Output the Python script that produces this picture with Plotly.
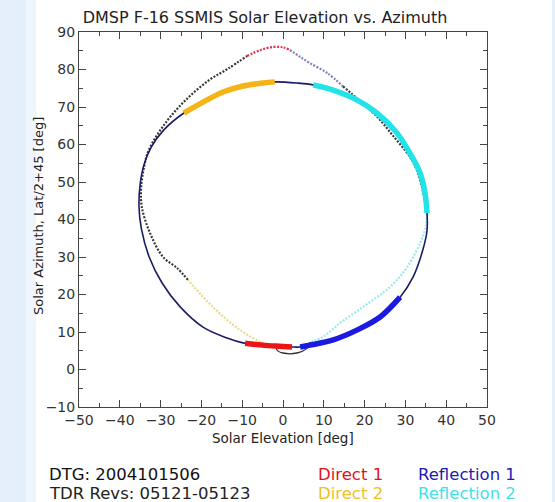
import plotly.graph_objects as go

# ---------------- data ----------------
# Orbit 1: solid navy closed loop (Solar Elevation, Solar Azimuth)
navy_x = [-2.0, 3.4, 7.4, 12.3, 18.1, 23.0, 27.9, 31.1, 33.6, 34.8, 35.3, 35.3, 34.3, 31.9, 28.7,
          23.8, 18.1, 12.3, 6.6, 4.2, 2.2, -1.0, -5.0, -9.8, -13.7, -19.6, -25.2, -29.6, -32.8,
          -34.7, -35.3, -35.0, -34.1, -32.3, -29.2, -24.3, -19.6, -14.7, -9.8, -4.9, -2.0]
navy_y = [76.7, 76.4, 75.9, 74.5, 71.9, 68.4, 63.1, 57.7, 52.4, 47.1, 41.7, 37.0, 32.0, 24.7, 19.3,
          14.0, 10.5, 7.9, 6.5, 6.0, 6.0, 6.2, 6.5, 7.1, 8.4, 11.3, 16.7, 23.0, 30.0,
          37.5, 43.5, 49.5, 54.5, 59.3, 63.9, 68.4, 71.3, 74.0, 75.6, 76.4, 76.7]

# Thick highlighted segments on orbit 1
direct1_x = [-9.3, -5.0, -1.0, 2.2]
direct1_y = [7.0, 6.5, 6.2, 6.0]
direct2_x = [-24.3, -19.6, -14.7, -9.8, -4.9, -2.0]
direct2_y = [68.4, 71.3, 74.0, 75.6, 76.4, 76.7]
refl1_x = [4.2, 6.6, 12.3, 18.1, 23.8, 28.7]
refl1_y = [6.0, 6.5, 7.9, 10.5, 14.0, 19.3]
refl2_x = [7.4, 12.3, 18.1, 23.0, 27.9, 31.1, 33.6, 34.8, 35.3]
refl2_y = [75.9, 74.5, 71.9, 68.4, 63.1, 57.7, 52.4, 47.1, 41.7]

# Orbit 2: dotted loop, split in segments by colour
o2_red_x = [-8.8, -5.5, -2.5, 0.0, 1.7]
o2_red_y = [83.6, 85.2, 86.0, 85.9, 85.2]
o2_blue_x = [1.7, 4.0, 6.6, 10.8, 14.7]
o2_blue_y = [85.2, 83.5, 81.7, 79.1, 75.5]
o2_black_r_x = [14.7, 18.9, 23.0, 27.0, 31.1, 32.8, 34.3, 35.3]
o2_black_r_y = [75.5, 71.6, 67.5, 62.3, 56.7, 53.2, 47.5, 41.5]
o2_cyan_x = [35.3, 35.0, 33.6, 30.4, 26.2, 19.6, 14.0, 9.8, 6.6]
o2_cyan_y = [41.5, 38.0, 33.7, 27.3, 22.0, 16.7, 12.4, 8.7, 7.3]
o2_loop_x = [6.6, 5.9, 3.4, 0.0, -1.5, -1.5]
o2_loop_y = [7.3, 5.7, 4.4, 4.4, 5.2, 5.9]
o2_yellow_x = [-1.5, -4.9, -10.5, -17.2, -23.3]
o2_yellow_y = [5.9, 7.1, 10.5, 16.7, 23.9]
o2_black_l_x = [-23.3, -26.0, -29.4, -32.6, -34.6, -34.8, -34.2, -32.9, -28.9, -24.0, -18.2, -13.5, -8.8]
o2_black_l_y = [23.9, 27.1, 30.0, 36.4, 43.3, 47.9, 53.2, 58.5, 65.6, 71.7, 77.1, 80.2, 83.6]

x_ticks = [-50, -40, -30, -20, -10, 0, 10, 20, 30, 40, 50]
y_ticks = [-10, 0, 10, 20, 30, 40, 50, 60, 70, 80, 90]

# ---------------- figure ----------------
W, H = 555, 502
L, R, T, B = 79, 68, 32, 95
PW, PH = W - L - R, H - T - B


def px(xp):
    return (xp - L) / PW


def py(yp):
    return (H - B - yp) / PH


fig = go.Figure()

dot = dict(dash="2px,1.5px", width=2.2)
blk = "#3a3a3a"

fig.add_trace(go.Scatter(x=o2_black_l_x, y=o2_black_l_y, mode="lines", line_shape="spline",
                         line=dict(color=blk, **dot)))
fig.add_trace(go.Scatter(x=o2_black_r_x, y=o2_black_r_y, mode="lines", line_shape="spline",
                         line=dict(color=blk, **dot)))
fig.add_trace(go.Scatter(x=o2_red_x, y=o2_red_y, mode="lines", line_shape="spline",
                         line=dict(color="#e0304a", **dot)))
fig.add_trace(go.Scatter(x=o2_blue_x, y=o2_blue_y, mode="lines", line_shape="spline",
                         line=dict(color="#7f7fbf", **dot)))
fig.add_trace(go.Scatter(x=o2_cyan_x, y=o2_cyan_y, mode="lines", line_shape="spline",
                         line=dict(color="#9ee8ec", **dot)))
fig.add_trace(go.Scatter(x=o2_yellow_x, y=o2_yellow_y, mode="lines", line_shape="spline",
                         line=dict(color="#ecd98a", **dot)))
fig.add_trace(go.Scatter(x=o2_loop_x, y=o2_loop_y, mode="lines", line_shape="spline",
                         line=dict(color="#333333", width=1.3)))

fig.add_trace(go.Scatter(x=navy_x, y=navy_y, mode="lines", line_shape="spline",
                         line=dict(color="#1c1c64", width=1.6)))

thick = 5.5
fig.add_trace(go.Scatter(x=direct2_x, y=direct2_y, mode="lines", line_shape="spline",
                         line=dict(color="#f5b416", width=thick)))
fig.add_trace(go.Scatter(x=refl2_x, y=refl2_y, mode="lines", line_shape="spline",
                         line=dict(color="#22e2ea", width=thick)))
fig.add_trace(go.Scatter(x=direct1_x, y=direct1_y, mode="lines", line_shape="spline",
                         line=dict(color="#ec1414", width=thick)))
fig.add_trace(go.Scatter(x=refl1_x, y=refl1_y, mode="lines", line_shape="spline",
                         line=dict(color="#1a1ae0", width=thick)))

axis_common = dict(
    showgrid=False, zeroline=False, showline=True, linecolor="#444444", linewidth=1,
    mirror="ticks", ticks="inside", ticklen=7, tickwidth=1, tickcolor="#444444",
    tickfont=dict(family="DejaVu Sans", size=14, color="#333333"),
    minor=dict(ticks="inside", ticklen=4, tickcolor="#444444", tickwidth=1),
    automargin=False,
)

fig.update_xaxes(range=[-50, 50], tickvals=x_ticks, minor_dtick=5, **axis_common)
fig.update_yaxes(range=[-10, 90], tickvals=y_ticks, minor_dtick=5, **axis_common)

shapes = [
    dict(type="rect", xref="paper", yref="paper", x0=px(0), x1=px(26), y0=py(H), y1=py(0),
         fillcolor="#e4effb", line_width=0, layer="below"),
    dict(type="rect", xref="paper", yref="paper", x0=px(26), x1=px(36), y0=py(H), y1=py(0),
         fillcolor="#eef5fd", line_width=0, layer="below"),
    dict(type="rect", xref="paper", yref="paper", x0=px(552), x1=px(W), y0=py(H), y1=py(0),
         fillcolor="#e4effb", line_width=0, layer="below"),
]

ann_font = "DejaVu Sans"
annotations = [
    dict(text="Solar Elevation [deg]", x=px(283), y=py(438), xanchor="center", yanchor="middle",
         font=dict(family=ann_font, size=13.5, color="#222222")),
    dict(text="Solar Azimuth, Lat/2+45 [deg]", x=px(38), y=py(216), xanchor="center",
         yanchor="middle", textangle=-90,
         font=dict(family=ann_font, size=13, color="#222222")),
    dict(text="DTG: 2004101506", x=px(47), y=py(474), xanchor="left", yanchor="middle",
         font=dict(family=ann_font, size=16.5, color="#111111")),
    dict(text="TDR Revs: 05121-05123", x=px(47), y=py(493), xanchor="left", yanchor="middle",
         font=dict(family=ann_font, size=16.5, color="#222222")),
    dict(text="Direct 1", x=px(316), y=py(474), xanchor="left", yanchor="middle",
         font=dict(family=ann_font, size=16.5, color="#e0141e")),
    dict(text="Direct 2", x=px(316), y=py(493), xanchor="left", yanchor="middle",
         font=dict(family=ann_font, size=16.5, color="#f0c024")),
    dict(text="Reflection 1", x=px(416), y=py(474), xanchor="left", yanchor="middle",
         font=dict(family=ann_font, size=16.5, color="#1c1cb4")),
    dict(text="Reflection 2", x=px(416), y=py(493), xanchor="left", yanchor="middle",
         font=dict(family=ann_font, size=16.5, color="#44e0ea")),
]
for a in annotations:
    a.update(xref="paper", yref="paper", showarrow=False)

fig.update_layout(
    width=W, height=H,
    margin=dict(l=L, r=R, t=T, b=B, autoexpand=False),
    paper_bgcolor="white", plot_bgcolor="white",
    showlegend=False,
    title=dict(text="DMSP F-16 SSMIS Solar Elevation vs. Azimuth",
               x=265 / W, xref="container", xanchor="center",
               y=1 - 17 / H, yref="container", yanchor="middle",
               font=dict(family="DejaVu Sans", size=16, color="#222222")),
    shapes=shapes,
    annotations=annotations,
)

fig.write_html("out.html", config={"displayModeBar": False},
               post_script="document.body.style.margin='0px';document.body.style.overflow='hidden';")
